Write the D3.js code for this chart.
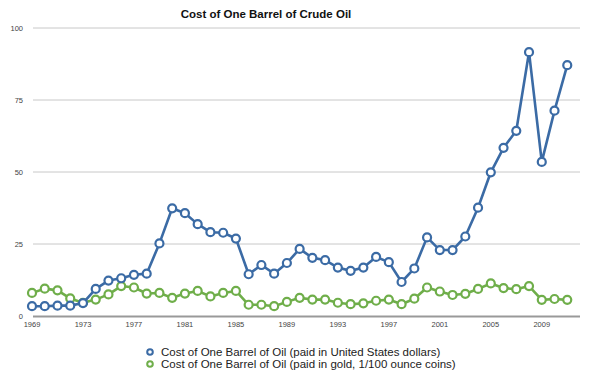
<!DOCTYPE html>
<html><head><meta charset="utf-8">
<script src="https://cdn.jsdelivr.net/npm/d3@7"></script>
<style>body{margin:0;background:#fff;}svg{display:block;font-family:"Liberation Sans",Arial,sans-serif;}</style>
</head><body>
<svg id="chart" width="600" height="379"></svg>
<script>
const years = d3.range(1969, 2012);
const usd = [3.4,3.4,3.6,3.6,4.5,9.4,12.3,13.1,14.3,14.7,25.2,37.4,35.7,31.9,29.1,28.9,26.9,14.5,17.7,14.7,18.4,23.3,20.2,19.4,16.8,15.7,16.8,20.5,18.7,11.8,16.5,27.3,22.9,22.9,27.6,37.6,49.9,58.4,64.3,91.6,53.5,71.3,87.1];
const gold = [8.0,9.5,8.9,6.1,4.6,5.7,7.5,10.4,9.9,7.8,8.0,6.3,7.8,8.7,6.8,8.0,8.7,3.9,3.9,3.4,4.9,6.3,5.7,5.7,4.6,4.1,4.4,5.3,5.7,4.1,6.0,9.9,8.5,7.3,7.7,9.4,11.3,9.7,9.3,10.4,5.6,5.9,5.6];
const yTicks = [0,25,50,75,100];
const xTicks = [1969,1973,1977,1981,1985,1989,1993,1997,2001,2005,2009];
const seriesNames = ["Cost of One Barrel of Oil (paid in United States dollars)","Cost of One Barrel of Oil (paid in gold, 1/100 ounce coins)"];
const colors = ["#3b6ba5","#6fae4a"];
const title = "Cost of One Barrel of Crude Oil";

const svg = d3.select("#chart");
const x = d3.scaleLinear().domain([1969, 2012]).range([32, 580]);
const y = d3.scaleLinear().domain([0, 100]).range([316, 28]);

svg.append("text").attr("x", 266).attr("y", 18).attr("text-anchor","middle")
  .attr("font-size", 11.5).attr("font-weight","bold").attr("fill","#111").text(title);

svg.append("g").selectAll("line").data(yTicks.filter(d=>d>0)).join("line")
  .attr("x1", 33).attr("x2", 580).attr("y1", d=>y(d)).attr("y2", d=>y(d))
  .attr("stroke","#c8c8c8").attr("stroke-width",1);
svg.append("g").selectAll("text").data(yTicks).join("text")
  .attr("x", 23).attr("y", d=>y(d)+2.5).attr("text-anchor","end")
  .attr("font-size", 7.5).attr("fill","#444").text(d=>d);
svg.append("line").attr("x1",33).attr("x2",580).attr("y1",y(0)+0.5).attr("y2",y(0)+0.5)
  .attr("stroke","#999").attr("stroke-width",2);
svg.append("g").selectAll("text").data(xTicks).join("text")
  .attr("x", d=>x(d)).attr("y", 327).attr("text-anchor","middle")
  .attr("font-size", 7.5).attr("fill","#444").text(d=>d);

const line = d3.line().x((d,i)=>x(years[i])).y(d=>y(d));
[gold, usd].forEach((s, k) => {
  const c = k===0 ? colors[1] : colors[0];
  const g = svg.append("g");
  g.append("path").datum(s).attr("d", line).attr("fill","none")
    .attr("stroke", c).attr("stroke-width", 2.6).attr("stroke-linejoin","round");
  g.selectAll("circle").data(s).join("circle")
    .attr("cx",(d,i)=>x(years[i])).attr("cy", d=>y(d)).attr("r", 4)
    .attr("fill","#fff").attr("stroke", c).attr("stroke-width", 2.2);
});

seriesNames.forEach((n,i)=>{
  const ly = 352 + i*12;
  svg.append("circle").attr("cx",150).attr("cy",ly).attr("r",2.8)
    .attr("fill","#fff").attr("stroke",colors[i]).attr("stroke-width",2);
  svg.append("text").attr("x",161).attr("y",ly+4).attr("font-size",11.5)
    .attr("fill","#222").text(n);
});
</script>
</body></html>
